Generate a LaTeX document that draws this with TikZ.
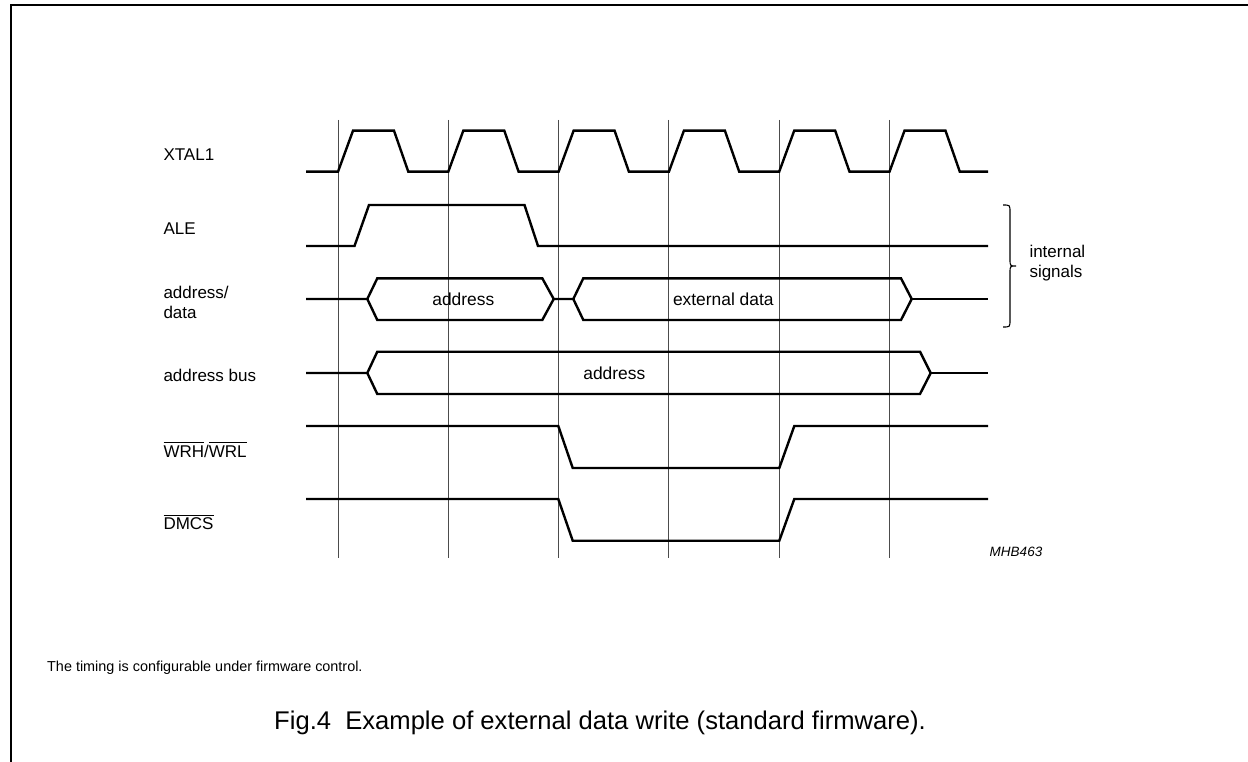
\documentclass[tikz,border=0pt]{standalone}
\usepackage{fontspec}
\setmainfont{Liberation Sans}
\newcommand{\barred}[1]{\ensuremath{\overline{\rule{0pt}{0.8em}\mbox{#1}}}}
\begin{document}
\begin{tikzpicture}[x=1pt,y=-1pt,
  sig/.style={line width=2.4pt,line join=miter,black},
  grid/.style={line width=1pt,black!70},
  lbl/.style={anchor=west,inner sep=0pt,font=\fontsize{17}{20.5}\selectfont,align=left},
  bustext/.style={inner sep=0pt,font=\fontsize{17.4}{20}\selectfont}]
\useasboundingbox (0,0) rectangle (1248,762);
% frame
\draw[line width=2pt] (10.5,770) -- (10.5,5.5) -- (1260,5.5);
% grid lines
\foreach \k in {0,...,5} \draw[grid] ({338+110.3*\k},120) -- ({338+110.3*\k},558);
% XTAL1
\draw[sig] (306,171.7) foreach \k in {0,...,5} { -- ({338+110.3*\k},171.7) -- ({353+110.3*\k},130.7) -- ({394+110.3*\k},130.7) -- ({408.3+110.3*\k},171.7) } -- (988,171.7);
% ALE
\draw[sig] (306,246) -- (354.5,246) -- (369,205) -- (524.5,205) -- (538,246) -- (988,246);
% address/data
\draw[sig] (306,299) -- (367.3,299) -- (377.3,278.3) -- (542.3,278.3) -- (553.7,299) -- (542.3,320) -- (377.3,320) -- (367.3,299);
\draw[sig] (553.7,299) -- (573.3,299) -- (583.3,278.3) -- (901,278.3) -- (911.7,299) -- (901,320) -- (583.3,320) -- (573.3,299);
\draw[sig] (911.7,299) -- (988,299);
\node[bustext] (ad1) at (463.3,299) {address};
\node[bustext] (ed) at (723.3,299) {external data};
% address bus
\draw[sig] (306,373) -- (367.3,373) -- (377.3,351.7) -- (920,351.7) -- (930.7,373) -- (920,394) -- (377.3,394) -- (367.3,373);
\draw[sig] (930.7,373) -- (988,373);
\node[bustext] (ab) at (614.3,373) {address};
% WRH/WRL
\draw[sig] (306,426) -- (558.3,426) -- (572.7,468) -- (779.3,468) -- (794.3,426) -- (988,426);
% DMCS
\draw[sig] (306,499) -- (558.3,499) -- (572.7,540.7) -- (779.3,540.7) -- (794.3,499) -- (988,499);
% labels
\node[lbl] (lx) at (163.3,155) {XTAL1};
\node[lbl] (la) at (163.3,228.3) {ALE};
\node[lbl] (ld) at (163.3,302.5) {address/\\data};
\node[lbl] (lb) at (163.3,375) {address bus};
\node[lbl] (lw) at (163.3,449.3) {\barred{WRH}/\barred{WRL}};
\node[lbl] (lm) at (163.3,522) {\barred{DMCS}};
% brace
\draw[line width=1.1pt] (1003,205) .. controls (1010,205) .. (1010,212) -- (1010,259) .. controls (1010,266) .. (1016,266) .. controls (1010,266) .. (1010,273) -- (1010,320) .. controls (1010,327) .. (1003,327);
\node[lbl] (is) at (1029.3,263) {internal\\signals};
% id
\node[inner sep=0pt,font=\fontsize{13.5}{16}\selectfont\itshape] (id) at (1016,551.7) {MHB463};
% notes
\node[anchor=west,inner sep=0pt,font=\fontsize{14.4}{17}\selectfont] (note) at (47,668) {The timing is configurable under firmware control.};
\node[anchor=west,inner sep=0pt,font=\fontsize{25.6}{29}\selectfont] (cap) at (274,723) {Fig.4\ \ Example of external data write (standard firmware).};
\end{tikzpicture}
\end{document}
